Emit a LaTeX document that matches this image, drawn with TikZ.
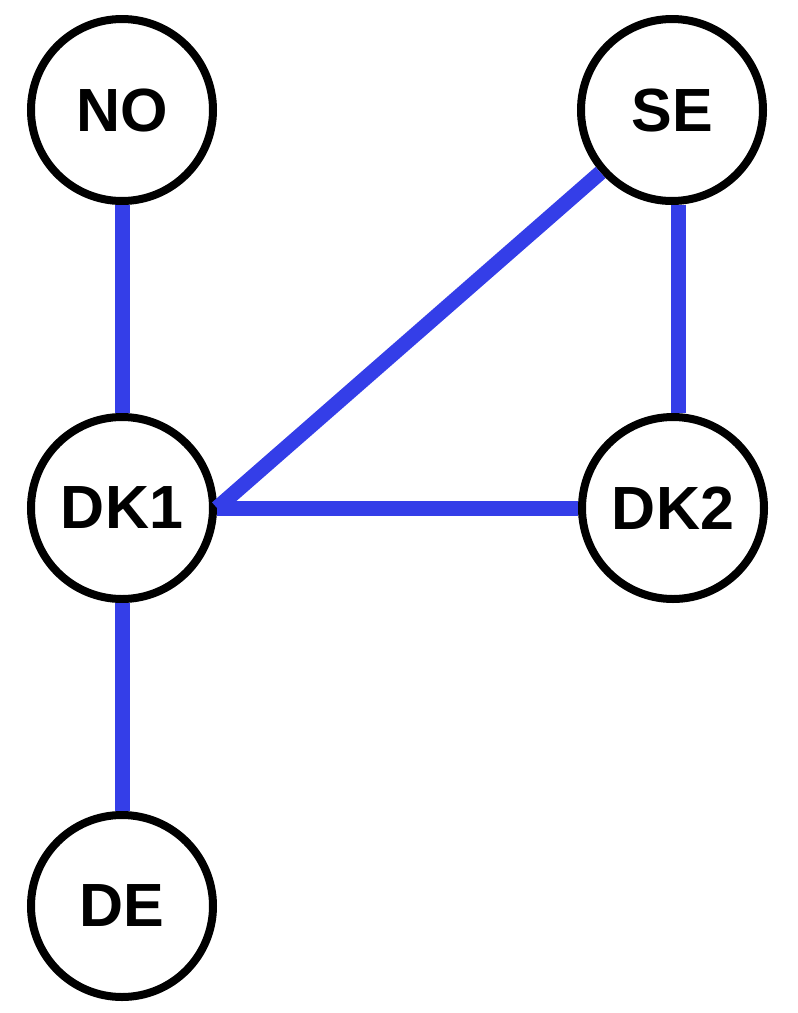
\documentclass[tikz,border=0pt]{standalone}
\usepackage{fontspec}
\setmainfont{Liberation Sans}
\definecolor{linkblue}{RGB}{52,62,232}
\begin{document}
\begin{tikzpicture}[x=1pt,y=-1pt,
  country/.style={circle,draw=black,line width=8pt,fill=white,minimum size=182pt,inner sep=0pt,
    font=\fontsize{61}{61}\selectfont\bfseries},
  link/.style={draw=linkblue,line width=15pt}]
\useasboundingbox (0,0) rectangle (798,1013);
\node[country] (NO) at (122,110) {NO};
\node[country] (SE) at (672,110) {SE};
\node[country] (DK1) at (122,508) {DK1};
\node[country] (DK2) at (673,508) {DK2};
\node[country] (DE) at (122,906) {DE};
\path[link] (NO) -- (DK1);
\path[link] (DK1) -- (DE);
\path[link] (DK1.east) -- (DK2.west);
\path[link] (DK1.east) -- (SE);
\path[link] ([xshift=6pt]SE.south) -- ([xshift=5pt]DK2.north);
\end{tikzpicture}
\end{document}
